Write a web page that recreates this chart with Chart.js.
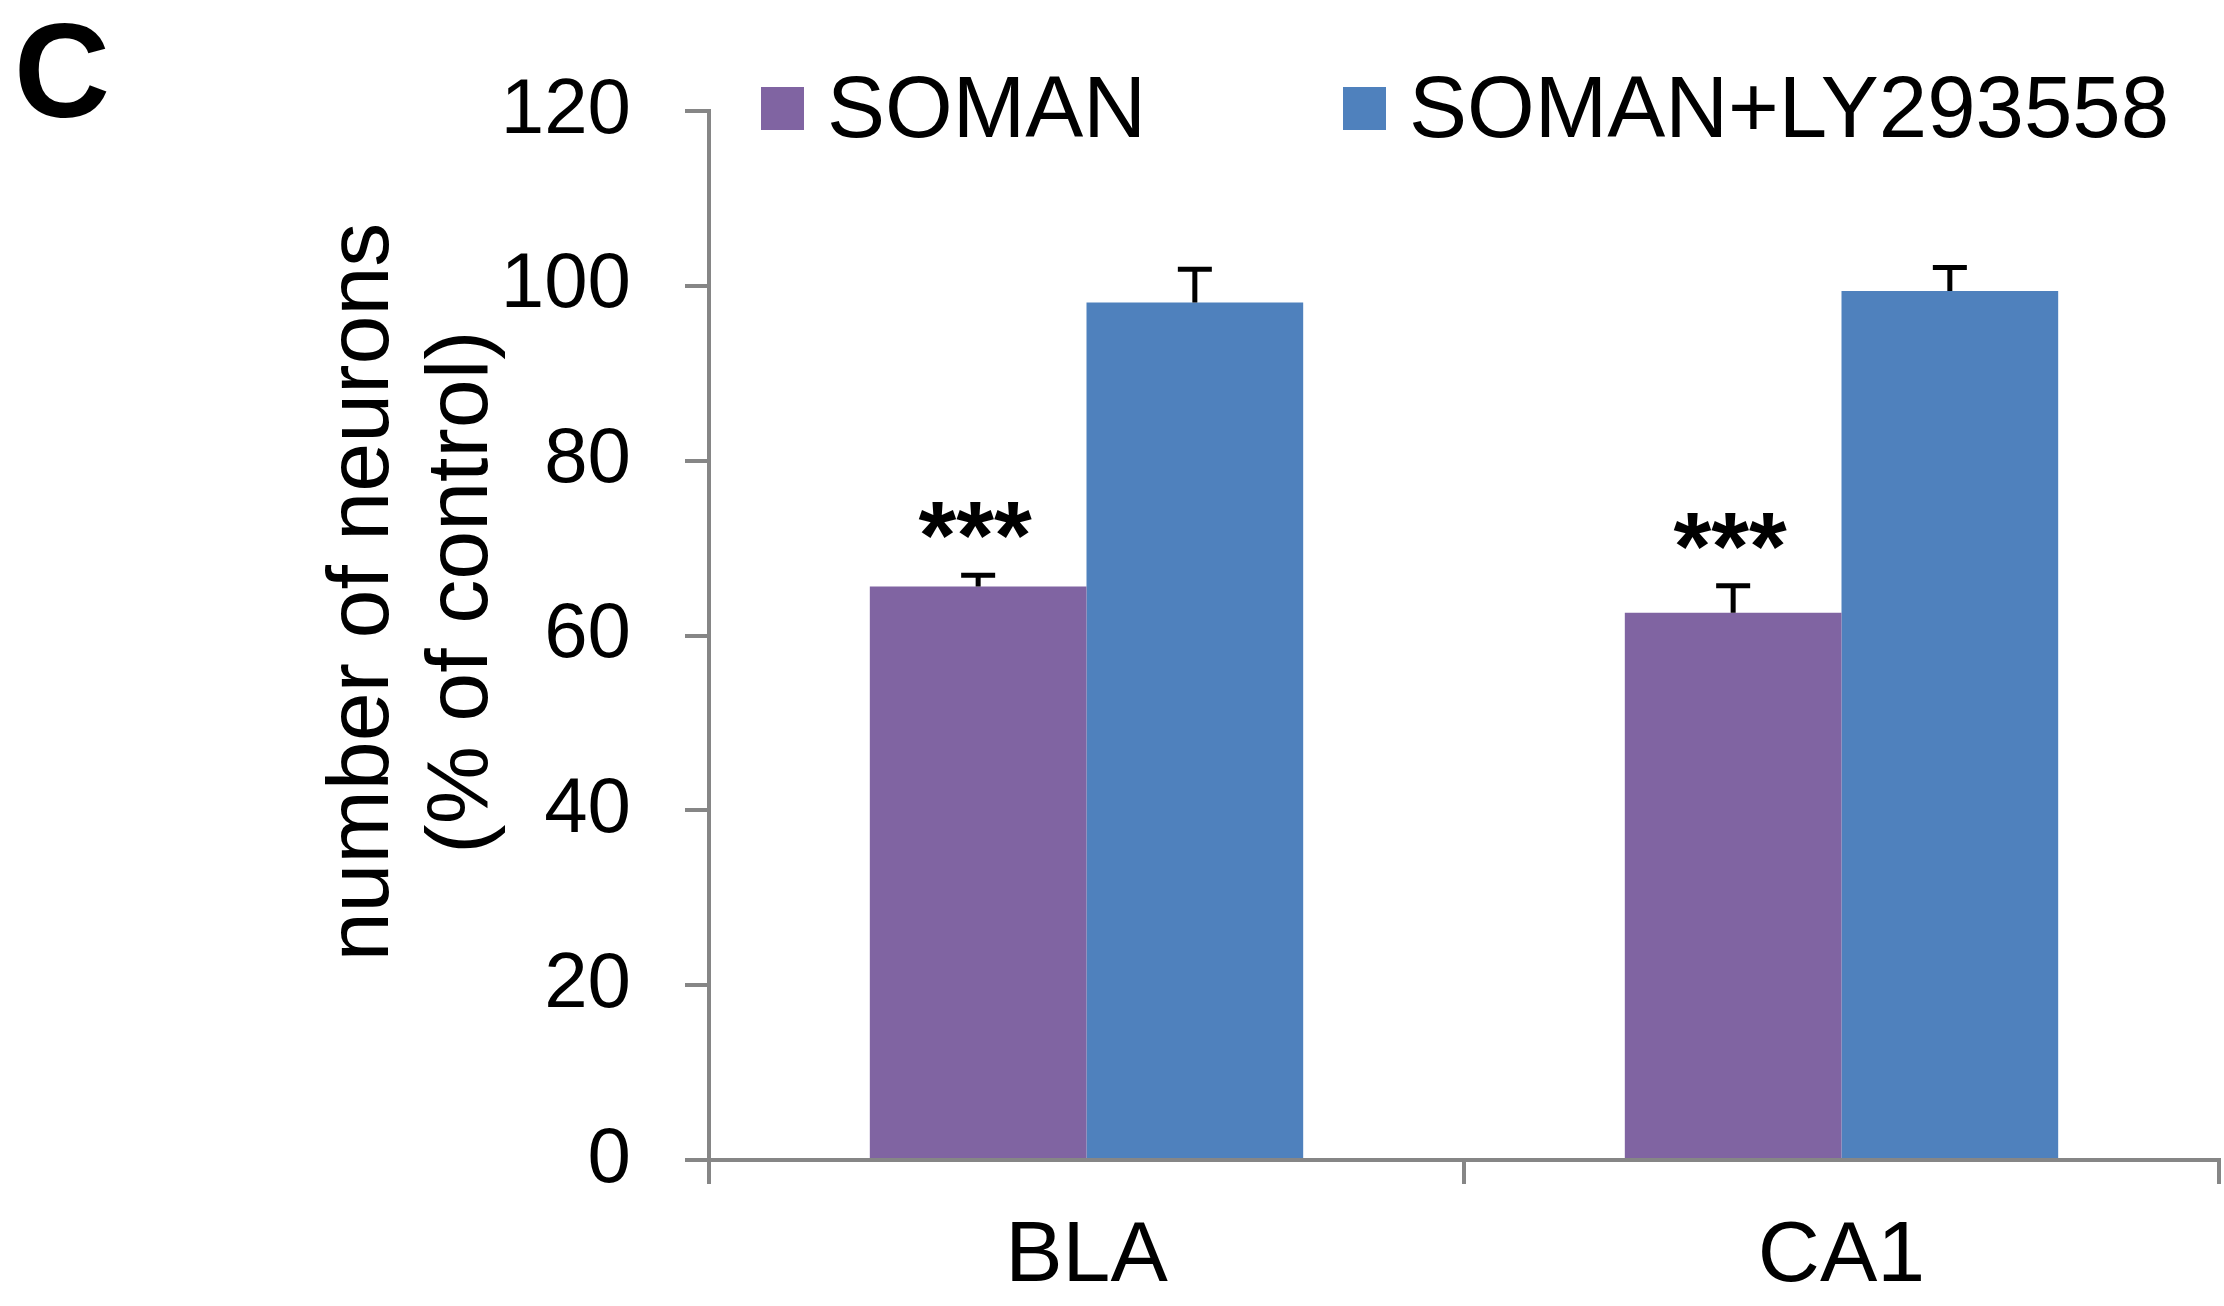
<!DOCTYPE html>
<html>
<head>
<meta charset="utf-8">
<script src="https://cdn.jsdelivr.net/npm/chart.js@4.4.0/dist/chart.umd.min.js"></script>
<style>
html, body { margin: 0; padding: 0; background: #fff; }
#chart { display: block; }
</style>
</head>
<body>
<canvas id="chart" width="2224" height="1306"></canvas>
<script>
// Données
const regions = ['BLA', 'CA1'];
const seriesNames = ['SOMAN', 'SOMAN+LY293558'];
const somanValues = [65.6, 62.6];
const somanErrors = [1.3, 3.1];
const lyValues = [98.1, 99.4];
const lyErrors = [3.8, 2.7];
const significance = ['***', '***'];
const yTicks = [0, 20, 40, 60, 80, 100, 120];

const colors = ['#8064A2', '#4F81BD'];
const axisColor = '#868686';
const fontFamily = '"Liberation Sans", Arial, sans-serif';

// Barres d'erreur, étoiles, légende et titres
const extras = {
    id: 'extras',
    afterDatasetsDraw(chart) {
        const ctx = chart.ctx;
        const yScale = chart.scales.y;
        const errors = [somanErrors, lyErrors];
        ctx.save();
        ctx.strokeStyle = '#000';
        ctx.lineWidth = 5;
        chart.data.datasets.forEach(function(ds, i) {
            chart.getDatasetMeta(i).data.forEach(function(bar, j) {
                const top = yScale.getPixelForValue(ds.data[j] + errors[i][j]);
                ctx.beginPath();
                ctx.moveTo(bar.x, bar.y);
                ctx.lineTo(bar.x, top);
                ctx.moveTo(bar.x - 17, top);
                ctx.lineTo(bar.x + 17, top);
                ctx.stroke();
                if (i === 0 && significance[j]) {
                    ctx.fillStyle = '#000';
                    ctx.font = 'bold 97px ' + fontFamily;
                    ctx.textAlign = 'center';
                    ctx.textBaseline = 'alphabetic';
                    ctx.fillText(significance[j], bar.x - 3, top - 6);
                }
            });
        });
        ctx.restore();
    },
    afterDraw(chart) {
        const ctx = chart.ctx;
        ctx.save();
        ctx.fillStyle = '#000';

        // lettre du panneau
        ctx.font = 'bold 133px ' + fontFamily;
        ctx.textAlign = 'left';
        ctx.textBaseline = 'alphabetic';
        ctx.fillText('C', 14, 117);

        // légende
        const legendX = [761, 1343];
        ctx.font = '87px ' + fontFamily;
        seriesNames.forEach(function(name, i) {
            ctx.fillStyle = colors[i];
            ctx.fillRect(legendX[i], 87, 43, 43);
            ctx.fillStyle = '#000';
            ctx.fillText(name, legendX[i] + 66, 137);
        });

        // titre de l'axe Y
        ctx.font = '88px ' + fontFamily;
        ctx.textAlign = 'center';
        ctx.translate(0, 592);
        ctx.rotate(-Math.PI / 2);
        ctx.fillText('number of neurons', 0, 388);
        ctx.fillText('(% of control)', 0, 487);
        ctx.restore();
    }
};

const ctx = document.getElementById('chart').getContext('2d');
const chart = new Chart(ctx, {
    type: 'bar',
    data: {
        labels: regions,
        datasets: [{
            label: seriesNames[0],
            data: somanValues,
            backgroundColor: colors[0],
            borderWidth: 0,
            barPercentage: 1,
            categoryPercentage: 0.574
        }, {
            label: seriesNames[1],
            data: lyValues,
            backgroundColor: colors[1],
            borderWidth: 0,
            barPercentage: 1,
            categoryPercentage: 0.574
        }]
    },
    options: {
        responsive: false,
        animation: false,
        devicePixelRatio: 1,
        layout: {
            padding: { top: 111, right: 5, left: 0, bottom: 0 }
        },
        plugins: {
            legend: { display: false },
            tooltip: { enabled: false }
        },
        scales: {
            x: {
                grid: {
                    offset: true,
                    drawOnChartArea: false,
                    drawTicks: true,
                    tickLength: 24,
                    color: axisColor,
                    lineWidth: 4
                },
                border: { color: axisColor, width: 4 },
                ticks: {
                    color: '#000',
                    padding: 22,
                    font: { family: fontFamily, size: 86 }
                },
                afterFit: function(scale) { scale.height = 146; }
            },
            y: {
                min: 0,
                max: 120,
                afterBuildTicks: function(scale) {
                    scale.ticks = yTicks.map(function(v) { return { value: v }; });
                },
                grid: {
                    drawOnChartArea: false,
                    drawTicks: true,
                    tickLength: 24,
                    color: axisColor,
                    lineWidth: 4
                },
                border: { color: axisColor, width: 4 },
                ticks: {
                    color: '#000',
                    padding: 54,
                    font: { family: fontFamily, size: 78 }
                },
                afterFit: function(scale) { scale.width = 709; }
            }
        }
    },
    plugins: [extras]
});
</script>
</body>
</html>
